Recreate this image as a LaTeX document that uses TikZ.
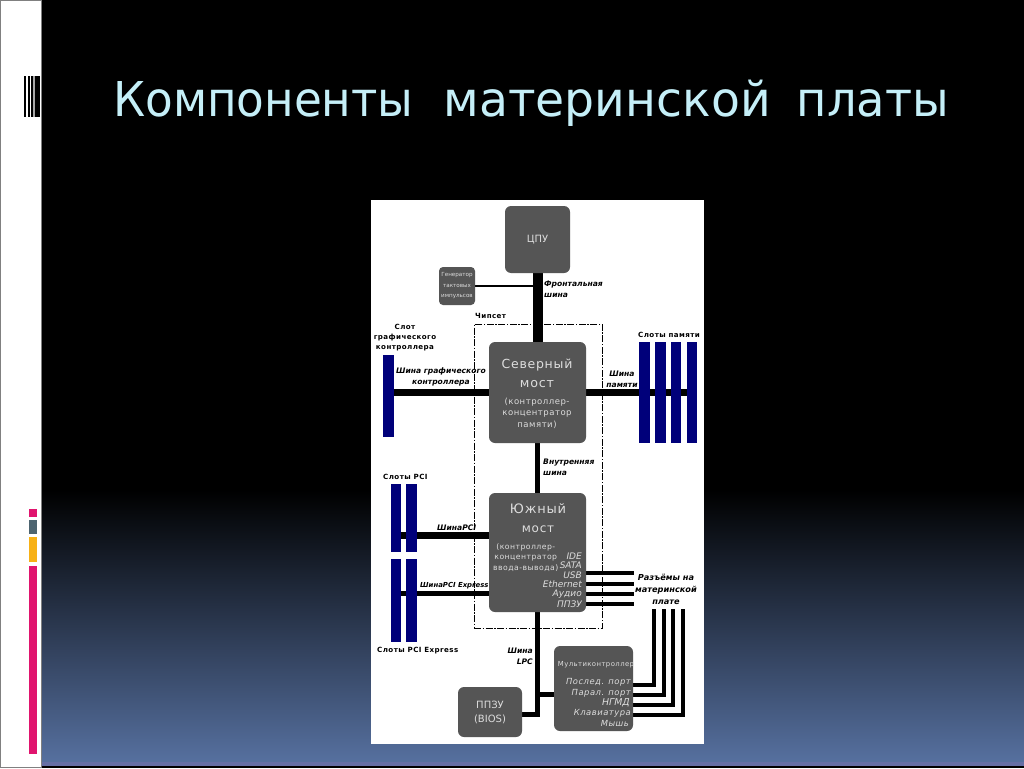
\documentclass[tikz,border=0pt]{standalone}
\usepackage{fontspec}
\usepackage{graphicx}
\setmainfont{DejaVu Sans}
\newfontfamily\titlefont{DejaVu Sans}
\newfontfamily\wide[LetterSpace=6]{DejaVu Sans}
\usetikzlibrary{calc}
\definecolor{boxgray}{HTML}{555555}
\definecolor{slotblue}{HTML}{00007A}
\definecolor{titlecol}{HTML}{C5EFF8}
\definecolor{bandend}{HTML}{56709F}
\definecolor{boxtext}{HTML}{DDDDDD}
\definecolor{accpink}{HTML}{E0146E}
\definecolor{accslate}{HTML}{4D6470}
\definecolor{accamber}{HTML}{F7B116}
\definecolor{bandstrip}{HTML}{666FA5}
\pgfdeclarelayer{bg}
\pgfdeclarelayer{conn}
\pgfsetlayers{bg,conn,main}
\tikzset{
  box/.style={fill=boxgray,rounded corners=6pt,inner sep=0pt,text=boxtext,align=center},
  slotbar/.style={fill=slotblue,inner sep=0pt},
  bus/.style={draw=black,line width=7pt},
  thinbus/.style={draw=black,line width=5pt},
  wire/.style={draw=black,line width=4pt},
  lab/.style={inner sep=0pt,text=black,font=\fontsize{7.6}{11}\selectfont\bfseries\itshape,align=center},
  slotcap/.style={inner sep=0pt,text=black,font=\fontsize{7.1}{10.4}\selectfont\wide\bfseries,align=center},
  intext/.style={inner sep=0pt,text=boxtext,align=center},
  port/.style={inner sep=0pt,text=boxtext,anchor=east,font=\fontsize{9}{10}\selectfont\itshape},
}
\begin{document}
\begin{tikzpicture}[x=1pt,y=-1pt]
\useasboundingbox (0,0) rectangle (1024,768);
\begin{pgfonlayer}{bg}
  \fill[black] (0,0) rectangle (1024,768);
  \shade[top color=black,bottom color=bandend,shading angle=0] (41,490) rectangle (1024,762);
  \fill[bandstrip] (41,762) rectangle (1024,766);
  \fill[gray] (0,0) rectangle (41.5,768);
  \fill[white] (1.2,1.2) rectangle (41,767);
  \fill[black] (24.3,76) rectangle (25.7,117);
  \fill[black] (28,76) rectangle (29.7,117);
  \fill[black] (30.5,76) rectangle (32.7,117);
  \fill[gray!70] (32.7,76) rectangle (34.7,117);
  \fill[black] (34.7,76) rectangle (40,117);
  \fill[accpink] (29,509) rectangle (37,517);
  \fill[accslate] (29,520) rectangle (37,534);
  \fill[accamber] (29,537) rectangle (37,562);
  \fill[accpink] (29,566) rectangle (37,754);
  \fill[white] (371,200) rectangle (704,744);
\end{pgfonlayer}
\node[inner sep=0pt,anchor=base west,text=titlecol,font=\fontsize{48}{56}\selectfont\titlefont] (title) at (113,116) {\scalebox{.943}[1]{Компоненты}\hspace{30pt}\scalebox{.985}[1]{материнской}\hspace{26pt}\scalebox{.968}[1]{платы}};
% chipset frame
\node[draw=black,line width=0.8pt,dash pattern=on 7pt off 1.5pt on 1.5pt off 1.5pt,minimum width=128pt,minimum height=304pt,inner sep=0pt] (chipset) at (538,476) {};
% main boxes
\node[box,minimum width=65pt,minimum height=67pt,font=\fontsize{10}{12}\selectfont] (cpu) at (537.5,239.5) {ЦПУ};
\node[box,rounded corners=4pt,minimum width=36pt,minimum height=38pt,font=\fontsize{5.6}{10.5}\selectfont] (clock) at (457,286) {Генератор\\тактовых\\импульсов};
\node[box,minimum width=97pt,minimum height=101pt] (north) at (537.5,392.5) {};
\node[intext,font=\fontsize{12.5}{19}\selectfont\wide] (northa) at (537,365) {Северный};
\node[intext,font=\fontsize{12.7}{19}\selectfont\wide] (northb) at (537,384) {мост};
\node[intext,font=\fontsize{8.5}{11.4}\selectfont\wide] (northc) at (537,413) {(контроллер-\\концентратор\\памяти)};
\node[box,minimum width=97pt,minimum height=119pt] (south) at (537.5,552.5) {};
\node[intext,font=\fontsize{13}{19}\selectfont\wide] (southa) at (538,509) {Южный};
\node[intext,font=\fontsize{12}{19}\selectfont\wide] (southb) at (538,529) {мост};
\node[intext,font=\fontsize{7.7}{10.5}\selectfont\wide,anchor=west] (southc) at (493,557.5) {(контроллер-\\концентратор\\ввода-вывода)};
\node[port] (pide) at (582,556) {IDE};
\node[port] (psata) at (582,565.5) {SATA};
\node[port] (pusb) at (582,575) {USB};
\node[port] (peth) at (582,584.5) {Ethernet};
\node[port] (paud) at (582,594) {Аудио};
\node[port] (prom) at (582,604) {ППЗУ};
\node[box,minimum width=79pt,minimum height=85pt] (multi) at (593.5,688.5) {};
\node[intext,font=\fontsize{6.9}{8}\selectfont\wide] (multia) at (596,665) {Мультиконтроллер};
\node[port,font=\fontsize{8.4}{10}\selectfont\itshape\wide] (m1) at (631,682) {Послед. порт};
\node[port,font=\fontsize{8.4}{10}\selectfont\itshape\wide] (m2) at (631,693) {Парал. порт};
\node[port,font=\fontsize{9.4}{10}\selectfont\itshape] (m3) at (630,703) {НГМД};
\node[port,font=\fontsize{8.4}{10}\selectfont\itshape\wide] (m4) at (631,713) {Клавиатура};
\node[port,font=\fontsize{8.4}{10}\selectfont\itshape\wide] (m5) at (629,723) {Мышь};
\node[box,minimum width=64pt,minimum height=50pt,font=\fontsize{10}{14}\selectfont] (rom) at (490,712) {ППЗУ\\(BIOS)};
% slots
\node[slotbar,minimum width=11pt,minimum height=82pt] (agp) at (388.5,396) {};
\node[slotbar,minimum width=11pt,minimum height=101pt] (mem1) at (644.5,392.5) {};
\node[slotbar,minimum width=11pt,minimum height=101pt] (mem2) at (660.5,392.5) {};
\node[slotbar,minimum width=10pt,minimum height=101pt] (mem3) at (676,392.5) {};
\node[slotbar,minimum width=10pt,minimum height=101pt] (mem4) at (692,392.5) {};
\node[slotbar,minimum width=10pt,minimum height=68pt] (pci1) at (396,518) {};
\node[slotbar,minimum width=11pt,minimum height=68pt] (pci2) at (411.5,518) {};
\node[slotbar,minimum width=10pt,minimum height=83pt] (pcie1) at (396,600.5) {};
\node[slotbar,minimum width=11pt,minimum height=83pt] (pcie2) at (411.5,600.5) {};
% free ends and levels
\coordinate (ypci) at (0,535.5);
\coordinate (ypcie) at (0,593.5);
\coordinate (ylpc) at (0,714);
\coordinate (ymul) at (0,694);
\coordinate (xlpc) at (537.5,0);
\coordinate (s1) at (634,573);
\coordinate (s2) at (634,583.5);
\coordinate (s3) at (634,593.5);
\coordinate (s4) at (634,603.5);
\coordinate (v1) at (654,609);
\coordinate (v2) at (664,609);
\coordinate (v3) at (672.5,609);
\coordinate (v4) at (682.5,609);
\coordinate (h1) at (0,685);
\coordinate (h2) at (0,695);
\coordinate (h3) at (0,705);
\coordinate (h4) at (0,715);
\begin{pgfonlayer}{conn}
  \draw[draw=black,line width=10pt] (cpu) -- (north);
  \draw[draw=black,line width=1.2pt] (clock) -- (clock -| cpu);
  \draw[bus] (agp.east |- north.west) -- (north.west);
  \draw[bus] (north.east) -- (mem4.west |- north.east);
  \draw[thinbus] (north) -- (south);
  \draw[bus] (pci1 |- ypci) -- (south.west |- ypci);
  \draw[thinbus] (pcie1 |- ypcie) -- (south.west |- ypcie);
  \draw[wire] (south.east |- s1) -- (s1);
  \draw[wire] (south.east |- s2) -- (s2);
  \draw[wire] (south.east |- s3) -- (s3);
  \draw[wire] (south.east |- s4) -- (s4);
  \draw[thinbus] (south.south -| xlpc) -- (xlpc |- ylpc) -- (rom.east |- ylpc);
  \draw[thinbus] (xlpc |- ymul) -- (multi.west |- ymul);
  \draw[wire] (multi.east |- h1) -| (v1);
  \draw[wire] (multi.east |- h2) -| (v2);
  \draw[wire] (multi.east |- h3) -| (v3);
  \draw[wire] (multi.east |- h4) -| (v4);
\end{pgfonlayer}
% labels
\node[lab,align=left,anchor=west] (lfsb) at (544,289) {Фронтальная\\шина};
\node[slotcap,anchor=west] (lchip) at (475,316) {Чипсет};
\node[slotcap] (lagps) at (405,337.5) {Слот\\графического\\контроллера};
\node[lab] (lagp) at (441,377) {Шина графического\\контроллера};
\node[lab] (lmem) at (622,379) {Шина\\памяти};
\node[slotcap,anchor=west] (lmems) at (638,335) {Слоты памяти};
\node[lab,align=left,anchor=west] (lint) at (543,467.5) {Внутренняя\\шина};
\node[slotcap,anchor=west] (lpcis) at (383,477) {Слоты PCI};
\node[lab,anchor=west] (lpci) at (437,528) {ШинаPCI};
\node[lab,anchor=west,font=\fontsize{6.9}{11}\selectfont\bfseries\itshape] (lpcie) at (420,586) {ШинаPCI Express};
\node[slotcap,anchor=west] (lpcies) at (377,651) {Слоты PCI Express};
\node[lab,font=\fontsize{8.2}{12}\selectfont\bfseries\itshape] (lconn) at (666,589) {Разъёмы на\\материнской\\плате};
\node[lab,align=right,anchor=east] (llpc) at (533,656.5) {Шина\\LPC};
\end{tikzpicture}
\end{document}
